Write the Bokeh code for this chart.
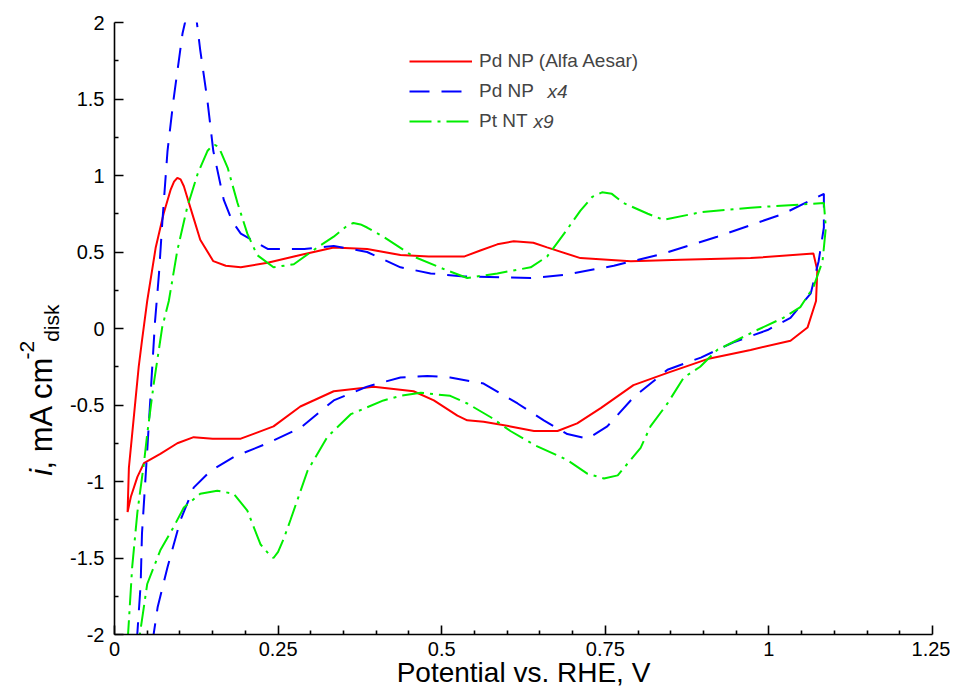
import math
from bokeh.plotting import figure
from bokeh.models import Range1d, FixedTicker, Legend, LegendItem, Label
from bokeh.layouts import row
from bokeh.core.properties import value
from bokeh.embed import file_html
from bokeh.resources import INLINE

# ---- data ----
red_x = [0.020, 0.022, 0.027, 0.032, 0.037, 0.042, 0.050, 0.063, 0.075, 0.086, 0.091, 0.096, 0.101, 0.106, 0.111,
         0.121, 0.131, 0.151, 0.170, 0.193, 0.234, 0.284, 0.335, 0.386, 0.437, 0.480, 0.534, 0.559, 0.585, 0.610,
         0.640, 0.661, 0.712, 0.789, 0.865, 0.972, 1.068,
         1.074, 1.072, 1.059, 1.033, 0.972, 0.906, 0.845, 0.793, 0.743, 0.707, 0.677, 0.641, 0.605, 0.564, 0.539,
         0.524, 0.488, 0.457, 0.396, 0.335, 0.284, 0.243, 0.193, 0.150, 0.121, 0.096, 0.070, 0.045, 0.035, 0.025, 0.020]
red_y = [-1.20, -0.91, -0.69, -0.47, -0.25, -0.08, 0.18, 0.53, 0.75, 0.91, 0.96, 0.985, 0.975, 0.93, 0.86,
         0.72, 0.58, 0.44, 0.41, 0.40, 0.43, 0.48, 0.53, 0.52, 0.48, 0.47, 0.47, 0.51, 0.55, 0.57,
         0.56, 0.53, 0.46, 0.44, 0.45, 0.46, 0.49,
         0.38, 0.18, 0.006, -0.08, -0.14, -0.20, -0.29, -0.37, -0.52, -0.62, -0.67, -0.67, -0.64, -0.61, -0.60,
         -0.57, -0.47, -0.41, -0.38, -0.41, -0.51, -0.64, -0.72, -0.72, -0.71, -0.75, -0.82, -0.88, -0.97, -1.10, -1.20]

blue_x = [0.034, 0.040, 0.042, 0.050, 0.057, 0.062, 0.068, 0.073, 0.081, 0.090, 0.104, 0.111, 0.118, 0.125, 0.131,
          0.142, 0.151, 0.167, 0.180, 0.193, 0.234, 0.290, 0.335, 0.386, 0.437, 0.483, 0.534, 0.636, 0.687, 0.763,
          0.839, 0.921, 1.022, 1.084,
          1.084, 1.076, 1.064, 1.033, 0.998, 0.946, 0.896, 0.845, 0.793, 0.753, 0.723, 0.692, 0.656, 0.616, 0.564,
          0.513, 0.478, 0.437, 0.386, 0.335, 0.284, 0.234, 0.182, 0.147, 0.121, 0.101, 0.081, 0.066, 0.058]
blue_y = [-2.05, -1.67, -1.34, -0.80, -0.30, 0.05, 0.36, 0.69, 1.16, 1.49, 1.93, 2.06, 2.10, 2.03, 1.82,
          1.49, 1.16, 0.84, 0.70, 0.62, 0.52, 0.52, 0.54, 0.50, 0.40, 0.36, 0.34, 0.33, 0.35, 0.41,
          0.49, 0.60, 0.75, 0.88,
          0.66, 0.44, 0.23, 0.07, -0.01, -0.09, -0.19, -0.27, -0.45, -0.64, -0.72, -0.69, -0.60, -0.49, -0.36,
          -0.32, -0.31, -0.32, -0.38, -0.47, -0.65, -0.75, -0.84, -0.93, -1.04, -1.25, -1.56, -1.82, -2.05]

green_x = [0.020, 0.027, 0.035, 0.045, 0.050, 0.060, 0.073, 0.083, 0.096, 0.111, 0.127, 0.142, 0.148, 0.153, 0.158,
           0.163, 0.173, 0.188, 0.203, 0.218, 0.243, 0.274, 0.310, 0.335, 0.355, 0.365, 0.376, 0.386, 0.411, 0.457,
           0.508, 0.539, 0.585, 0.636, 0.661, 0.687, 0.712, 0.730, 0.745, 0.760, 0.778, 0.815, 0.839, 0.896, 0.972,
           1.048, 1.084,
           1.087, 1.082, 1.068, 1.048, 1.022, 0.982, 0.921, 0.895, 0.870, 0.845, 0.819, 0.804, 0.769, 0.748, 0.723,
           0.692, 0.641, 0.605, 0.575, 0.539, 0.513, 0.468, 0.437, 0.411, 0.361, 0.325, 0.295, 0.269, 0.259, 0.250,
           0.243, 0.235, 0.223, 0.203, 0.182, 0.157, 0.131, 0.106, 0.090, 0.070, 0.050, 0.037]
green_y = [-2.05, -1.56, -1.20, -0.88, -0.69, -0.36, 0.01, 0.18, 0.51, 0.79, 1.01, 1.16, 1.19, 1.20, 1.19,
           1.15, 1.05, 0.82, 0.62, 0.48, 0.40, 0.42, 0.53, 0.60, 0.67, 0.69, 0.68, 0.66, 0.60, 0.47,
           0.38, 0.33, 0.36, 0.40, 0.47, 0.62, 0.77, 0.86, 0.89, 0.88, 0.82, 0.75, 0.71, 0.76, 0.79,
           0.81, 0.82,
           0.66, 0.44, 0.27, 0.14, 0.07, -0.01, -0.14, -0.25, -0.32, -0.49, -0.64, -0.78, -0.96, -0.98, -0.95,
           -0.86, -0.76, -0.67, -0.58, -0.49, -0.44, -0.42, -0.44, -0.47, -0.56, -0.71, -0.93, -1.25, -1.37, -1.46,
           -1.50, -1.47, -1.41, -1.19, -1.08, -1.06, -1.08, -1.17, -1.30, -1.45, -1.67, -2.05]

series_names = ["Pd NP (Alfa Aesar)", "Pd NP", "Pt NT"]
series_suffix = ["", "x4", "x9"]

x_ticks = [0, 0.25, 0.5, 0.75, 1.0, 1.25]
x_tick_labels = ["0", "0.25", "0.5", "0.75", "1", "1.25"]
x_minor = [0.05, 0.1, 0.15, 0.2, 0.3, 0.35, 0.4, 0.45, 0.55, 0.6, 0.65, 0.7, 0.8, 0.85, 0.9, 0.95,
           1.05, 1.1, 1.15, 1.2]
y_ticks = [-2, -1.5, -1, -0.5, 0, 0.5, 1, 1.5, 2]
y_tick_labels = ["-2", "-1.5", "-1", "-0.5", "0", "0.5", "1", "1.5", "2"]
y_minor = [-1.75, -1.25, -0.75, -0.25, 0.25, 0.75, 1.25, 1.75]

x_title = "Potential vs. RHE, V"
y_title_parts = ["i", ", mA cm", "-2", "disk"]

FONT = "Liberation Sans"
H = 690
W_LEFT = 62
W_MAIN = 888

p = figure(width=W_MAIN, height=H, output_backend="svg", toolbar_location=None,
           x_range=Range1d(0, 1.25), y_range=Range1d(-2, 2),
           min_border_left=114 - W_LEFT, min_border_right=W_LEFT + W_MAIN - 932,
           min_border_top=22, min_border_bottom=H - 634,
           x_axis_location="below", y_axis_location="left")
p.outline_line_color = None
p.xgrid.visible = False
p.ygrid.visible = False

for ax, ticks, labels, minor in ((p.xaxis[0], x_ticks, x_tick_labels, x_minor),
                                 (p.yaxis[0], y_ticks, y_tick_labels, y_minor)):
    ax.ticker = FixedTicker(ticks=ticks, minor_ticks=minor)
    ax.major_label_overrides = {t: l for t, l in zip(ticks, labels)}
    ax.major_tick_in = 9
    ax.major_tick_out = 0
    ax.minor_tick_in = 4
    ax.minor_tick_out = 0
    ax.axis_line_width = 1.6
    ax.major_tick_line_width = 1.6
    ax.minor_tick_line_width = 1.6
    ax.axis_line_color = "black"
    ax.major_tick_line_color = "black"
    ax.minor_tick_line_color = "black"
    ax.major_label_text_font = FONT
    ax.major_label_text_font_size = "20px"
    ax.major_label_text_color = "black"
p.xaxis[0].major_label_standoff = 7
p.yaxis[0].major_label_standoff = 10
p.xaxis[0].axis_label = x_title
p.xaxis[0].axis_label_text_font = FONT
p.xaxis[0].axis_label_text_font_size = "28px"
p.xaxis[0].axis_label_text_font_style = "normal"
p.xaxis[0].axis_label_text_color = "black"
p.xaxis[0].axis_label_standoff = -2

r_red = p.line(red_x, red_y, line_color="#ff0000", line_width=2)
r_blue = p.line(blue_x, blue_y, line_color="#0000ff", line_width=2, line_dash="20 12")
r_green = p.line(green_x, green_y, line_color="#00ee00", line_width=2, line_dash="22 6 3 6")

legend = Legend(items=[LegendItem(label=series_names[0], renderers=[r_red]),
                       LegendItem(label=series_names[1], renderers=[r_blue]),
                       LegendItem(label=series_names[2], renderers=[r_green])],
                location=(295, 499), orientation="vertical",
                label_text_font=FONT, label_text_font_size="19px",
                label_height=28, glyph_height=28, glyph_width=63, spacing=2,
                padding=0, margin=0, label_standoff=7,
                border_line_color=None, background_fill_alpha=0)
p.add_layout(legend, "center")

# italic suffixes in legend rows
px_x = 818 / 1.25
px_y = 612 / 4.0
p.add_layout(Label(x=(547 - 114) / px_x, y=(328 - 91) / px_y, text=series_suffix[1],
                   text_font=FONT, text_font_size="19px", text_font_style="italic",
                   text_baseline="middle", text_align="left"))
p.add_layout(Label(x=(533 - 114) / px_x, y=(328 - 121) / px_y, text=series_suffix[2],
                   text_font=FONT, text_font_size="19px", text_font_style="italic",
                   text_baseline="middle", text_align="left"))

# ---- left strip holding the rotated y-axis title ----
q = figure(width=W_LEFT, height=H, output_backend="svg", toolbar_location=None,
           x_range=Range1d(0, W_LEFT), y_range=Range1d(0, H),
           x_axis_type=None, y_axis_type=None, title=None,
           min_border=0, min_border_left=0, min_border_right=0, min_border_top=0, min_border_bottom=0)
q.grid.visible = False
q.outline_line_color = None

ang = math.pi / 2
start = 480.0   # canvas y where the title begins (text runs upward)
base = 48.0     # canvas x of the main baseline
layout_pieces = [  # (part index, font px, style, baseline x, offset along text)
    (0, 31, "italic", base, 0.0),
    (1, 31, "normal", base, 7.0),
    (2, 21, "normal", base - 17, 121.0),
    (3, 21, "normal", base + 8, 141.0),
]
for idx, fs, style, bx, off in layout_pieces:
    # compensation for how the rotated text box is anchored (measured on an earlier render)
    ay = start - off + fs
    ax_ = bx - 0.23 * fs
    q.text(x=[ax_], y=[H - ay], text=[y_title_parts[idx]], angle=ang,
           text_font=value(FONT), text_font_size=value(f"{fs}px"), text_font_style=style,
           text_align="left", text_baseline="alphabetic", text_color="black")

layout = row(q, p, spacing=0)
open("out.html", "w").write(file_html(layout, INLINE))
